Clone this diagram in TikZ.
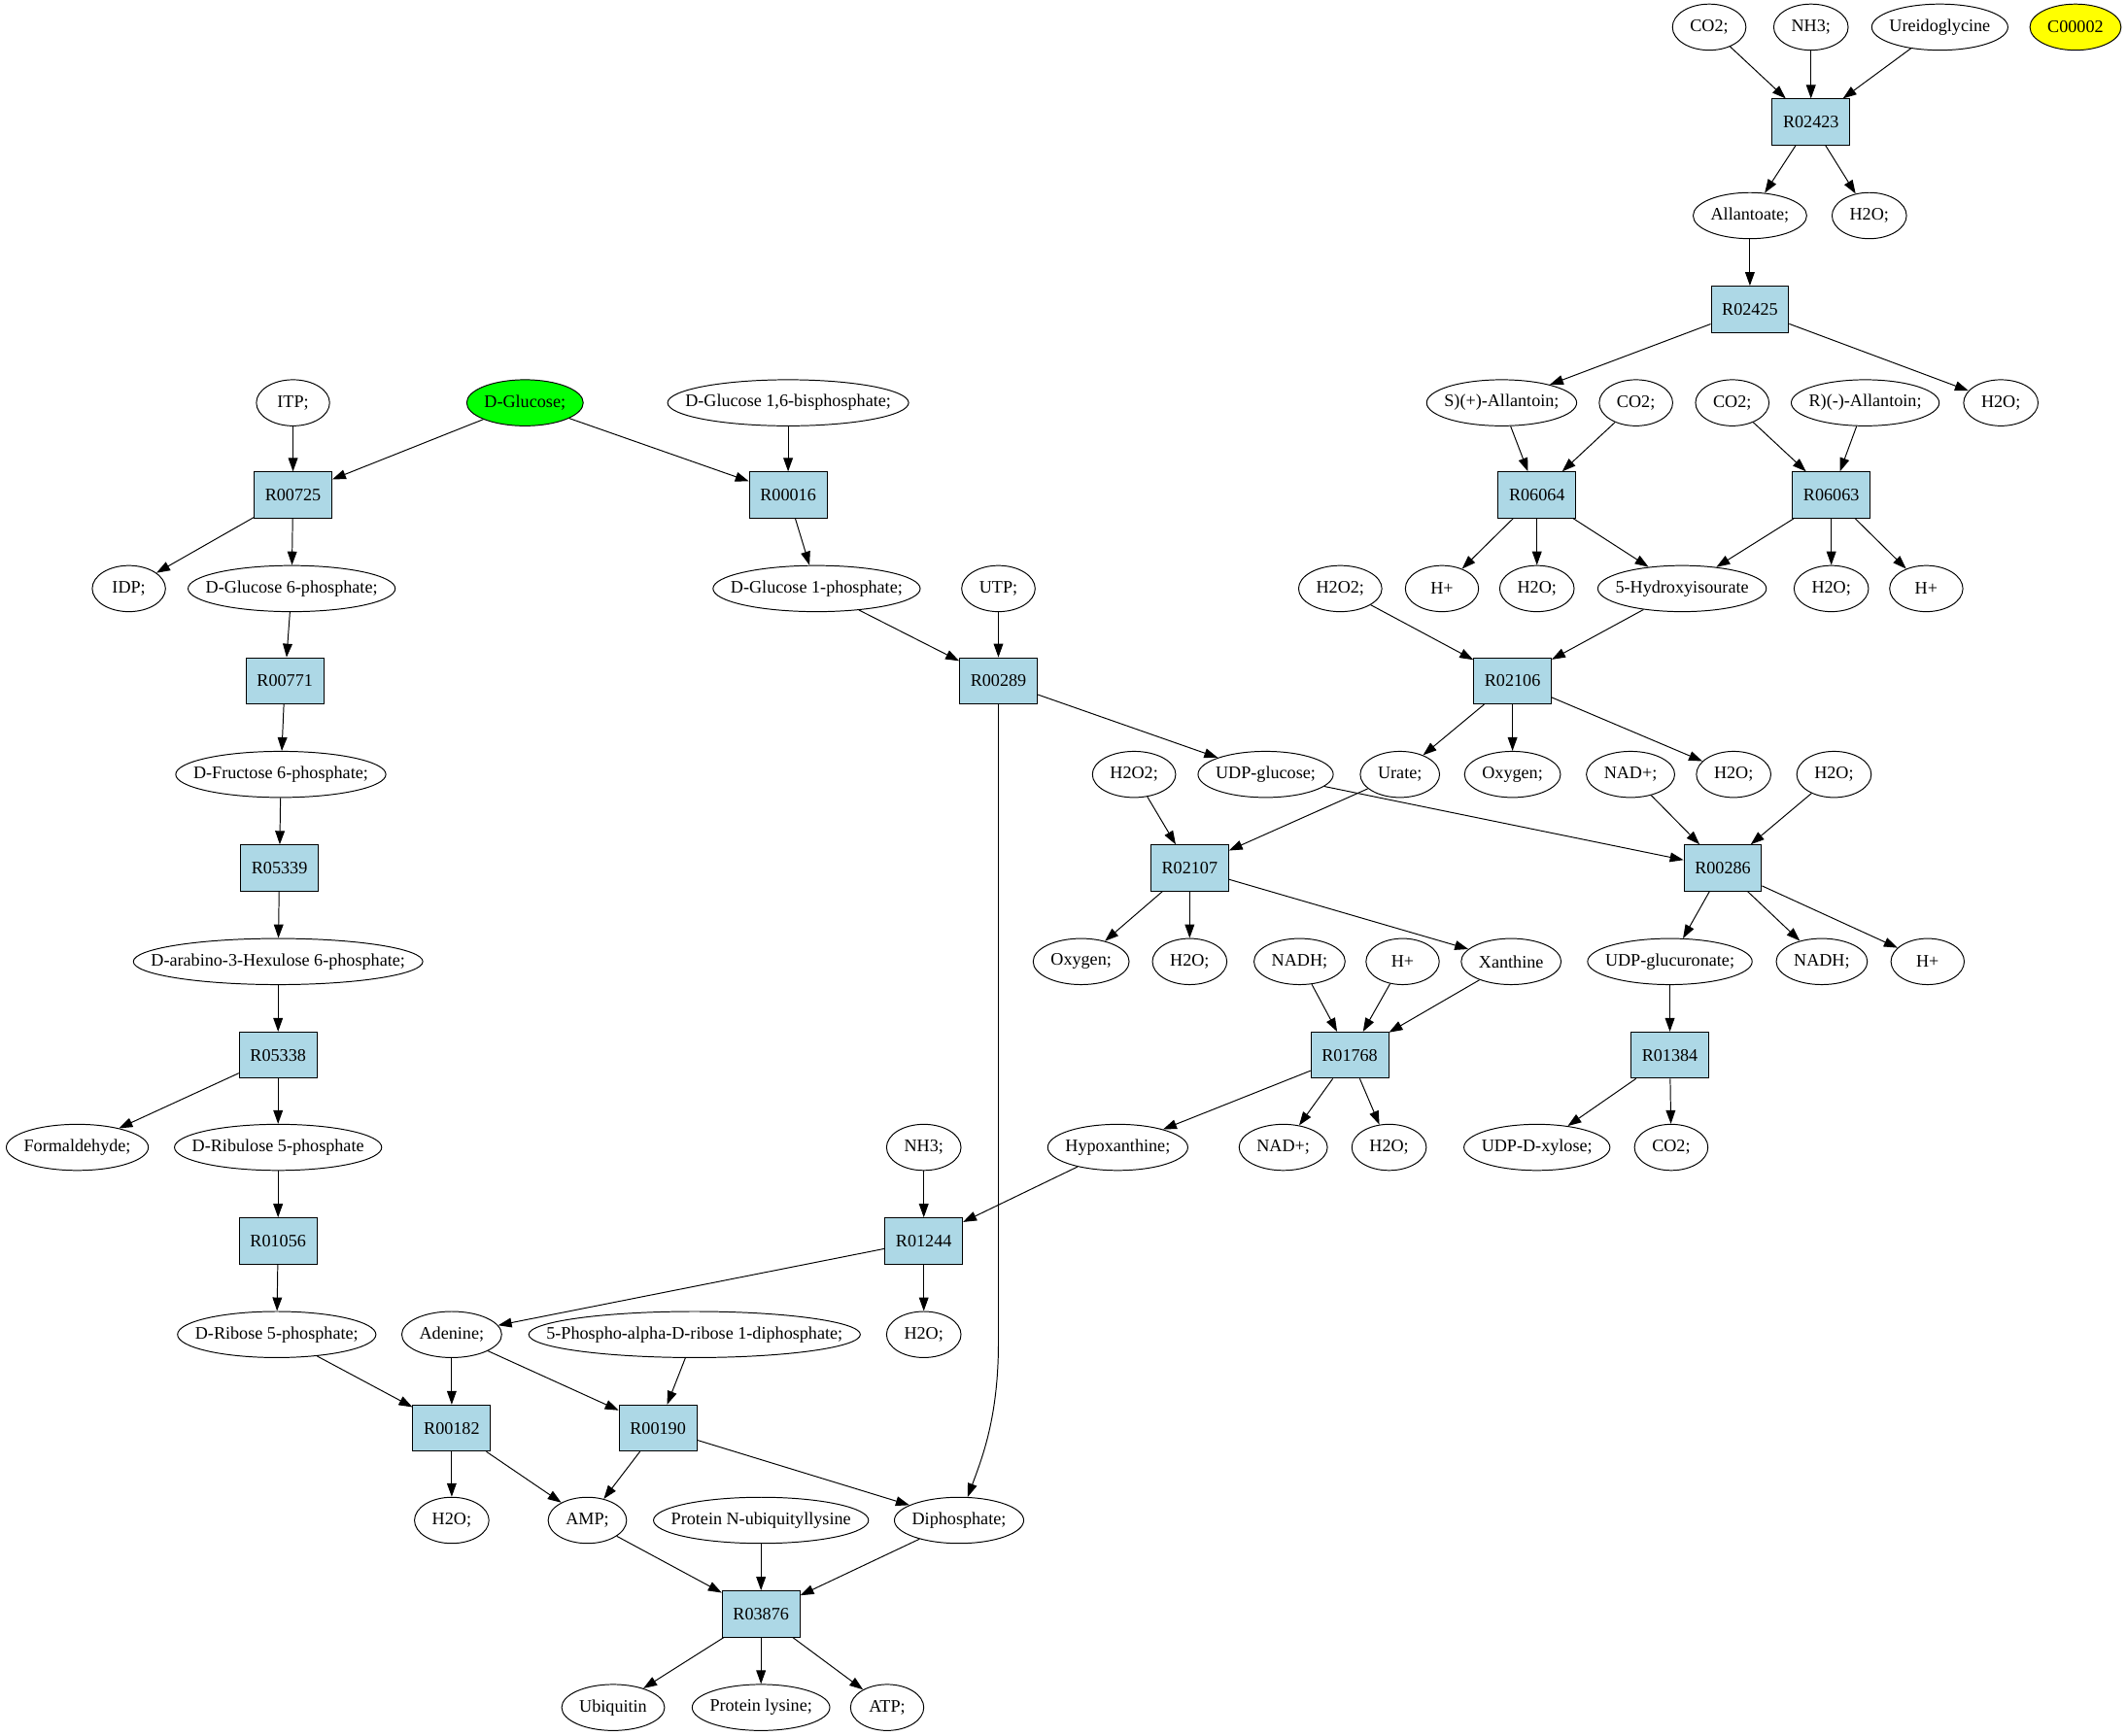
\documentclass[tikz,border=0pt]{standalone}
\usepackage{fontspec}
\setmainfont{Liberation Serif}
\usetikzlibrary{arrows.meta,shapes.geometric}
\definecolor{rboxfill}{HTML}{ADD8E6}
\definecolor{startgreen}{HTML}{00FF00}
\definecolor{isoyellow}{HTML}{FFFF00}
\newcommand{\labfont}{\fontsize{13}{15}\selectfont}
\newlength{\metw}
\newcommand{\metnode}[4][]{%
  \node[metst,#1] (#2) at (#3) {\settowidth{\metw}{#4}\makebox[\dimexpr(\metw+26pt)*7071/10000\relax]{#4}};}
\newcommand{\rxnnode}[2]{\node[rxnst] (#1) at (#2) {#1};}
\begin{document}
\begin{tikzpicture}[x=1pt,y=-1pt,
  metst/.style={ellipse,draw=black,line width=0.7pt,inner sep=0pt,minimum width=54pt,minimum height=34pt,font=\labfont},
  rxnst/.style={rectangle,draw=black,line width=0.7pt,fill=rboxfill,inner xsep=8pt,inner ysep=0pt,minimum width=57pt,minimum height=34pt,font=\labfont},
  edge/.style={line width=0.7pt,-{Triangle[length=10pt,width=7pt]}}]
\useasboundingbox (0,0) rectangle (1568,1280);
% ---- top right
\metnode{co2a}{1260,20}{CO2;}
\metnode{nh3a}{1335,20}{NH3;}
\metnode{ureido}{1430,20}{Ureidoglycine}
\metnode[fill=isoyellow]{c00002}{1530,20}{C00002}
\rxnnode{R02423}{1335,90}
\metnode{allanto}{1290,159}{Allantoate;}
\metnode{h2oa}{1378,159}{H2O;}
\rxnnode{R02425}{1290,228}
\metnode{sall}{1107,297}{S)(+)-Allantoin;}
\metnode{co2b}{1206,297}{CO2;}
\metnode{co2c}{1277,297}{CO2;}
\metnode{rall}{1375,297}{R)(-)-Allantoin;}
\metnode{h2ob}{1475,297}{H2O;}
\rxnnode{R06064}{1133,365}
\rxnnode{R06063}{1350,365}
\metnode{hpa}{1063,434}{H+}
\metnode{h2oc}{1133,434}{H2O;}
\metnode{hiu}{1240,434}{5-Hydroxyisourate}
\metnode{h2od}{1350,434}{H2O;}
\metnode{hpb}{1420,434}{H+}
\metnode{h2o2a}{988,434}{H2O2;}
\rxnnode{R02106}{1115,502}
\metnode{urate}{1032,571}{Urate;}
\metnode{oxya}{1115,571}{Oxygen;}
\metnode{nadpa}{1202,571}{NAD+;}
\metnode{h2oe}{1278,571}{H2O;}
\metnode{h2of}{1352,571}{H2O;}
\metnode{udpg}{933,571}{UDP-glucose;}
\metnode{h2o2b}{836,571}{H2O2;}
\rxnnode{R02107}{877,640}
\rxnnode{R00286}{1270,640}
\metnode{oxyb}{797,709}{Oxygen;}
\metnode{h2og}{877,709}{H2O;}
\metnode{nadha}{958,709}{NADH;}
\metnode{hpc}{1034,709}{H+}
\metnode{xanth}{1114,709}{Xanthine}
\metnode{udpgu}{1231,709}{UDP-glucuronate;}
\metnode{nadhb}{1343,709}{NADH;}
\metnode{hpd}{1421,709}{H+}
\rxnnode{R01768}{995,778}
\rxnnode{R01384}{1231,778}
\metnode{hypox}{824,846}{Hypoxanthine;}
\metnode{nadpb}{946,846}{NAD+;}
\metnode{h2oh}{1024,846}{H2O;}
\metnode{udpx}{1133,846}{UDP-D-xylose;}
\metnode{co2d}{1232,846}{CO2;}
\metnode{nh3b}{681,846}{NH3;}
\rxnnode{R01244}{681,915}
\metnode{adenine}{333,984}{Adenine;}
\metnode{prpp}{512,984}{5-Phospho-alpha-D-ribose 1-diphosphate;}
\metnode{h2oi}{681,984}{H2O;}
\rxnnode{R00182}{333,1053}
\rxnnode{R00190}{485,1053}
\metnode{h2oj}{333,1121}{H2O;}
\metnode{amp}{433,1121}{AMP;}
\metnode{pnub}{561,1121}{Protein N-ubiquityllysine}
\metnode{dipho}{707,1121}{Diphosphate;}
\rxnnode{R03876}{561,1190}
\metnode{ubiq}{452,1259}{Ubiquitin}
\metnode{plys}{561,1259}{Protein lysine;}
\metnode{atp}{654,1259}{ATP;}
% ---- left
\metnode{itp}{216,297}{ITP;}
\metnode[fill=startgreen]{glc}{387,297}{D-Glucose;}
\metnode{g16bp}{581,297}{D-Glucose 1,6-bisphosphate;}
\rxnnode{R00725}{216,365}
\rxnnode{R00016}{581,365}
\metnode{idp}{95,434}{IDP;}
\metnode{g6p}{215,434}{D-Glucose 6-phosphate;}
\metnode{g1p}{602,434}{D-Glucose 1-phosphate;}
\metnode{utp}{736,434}{UTP;}
\rxnnode{R00289}{736,502}
\rxnnode{R00771}{210,502}
\metnode{f6p}{207,571}{D-Fructose 6-phosphate;}
\rxnnode{R05339}{206,640}
\metnode{hexu}{205,709}{D-arabino-3-Hexulose 6-phosphate;}
\rxnnode{R05338}{205,778}
\metnode{formal}{57,846}{Formaldehyde;}
\metnode{ru5p}{205,846}{D-Ribulose 5-phosphate}
\rxnnode{R01056}{205,915}
\metnode{r5p}{204,984}{D-Ribose 5-phosphate;}
% ---- edges
\foreach \a/\b in {co2a/R02423,nh3a/R02423,ureido/R02423,R02423/allanto,R02423/h2oa,
  allanto/R02425,R02425/sall,R02425/h2ob,sall/R06064,co2b/R06064,co2c/R06063,rall/R06063,
  R06064/hpa,R06064/h2oc,R06064/hiu,R06063/hiu,R06063/h2od,R06063/hpb,
  h2o2a/R02106,hiu/R02106,R02106/urate,R02106/oxya,R02106/h2oe,
  nadpa/R00286,h2of/R00286,udpg/R00286,R00286/udpgu,R00286/nadhb,R00286/hpd,
  udpgu/R01384,R01384/udpx,R01384/co2d,
  urate/R02107,h2o2b/R02107,R02107/oxyb,R02107/h2og,R02107/xanth,
  nadha/R01768,hpc/R01768,xanth/R01768,R01768/hypox,R01768/nadpb,R01768/h2oh,
  hypox/R01244,nh3b/R01244,R01244/adenine,R01244/h2oi,
  itp/R00725,glc/R00725,glc/R00016,g16bp/R00016,R00725/idp,R00725/g6p,R00016/g1p,
  g1p/R00289,utp/R00289,R00289/udpg,
  g6p/R00771,R00771/f6p,f6p/R05339,R05339/hexu,hexu/R05338,R05338/formal,R05338/ru5p,
  ru5p/R01056,R01056/r5p,r5p/R00182,adenine/R00182,adenine/R00190,prpp/R00190,
  R00182/h2oj,R00182/amp,R00190/amp,R00190/dipho,
  amp/R03876,pnub/R03876,dipho/R03876,R03876/ubiq,R03876/plys,R03876/atp}
  \draw[edge] (\a) -- (\b);
\coordinate (dbend) at (736,990);
\draw[edge] (R00289) -- (dbend) .. controls (736,1045) and (724,1075) .. (dipho);
\end{tikzpicture}
\end{document}
